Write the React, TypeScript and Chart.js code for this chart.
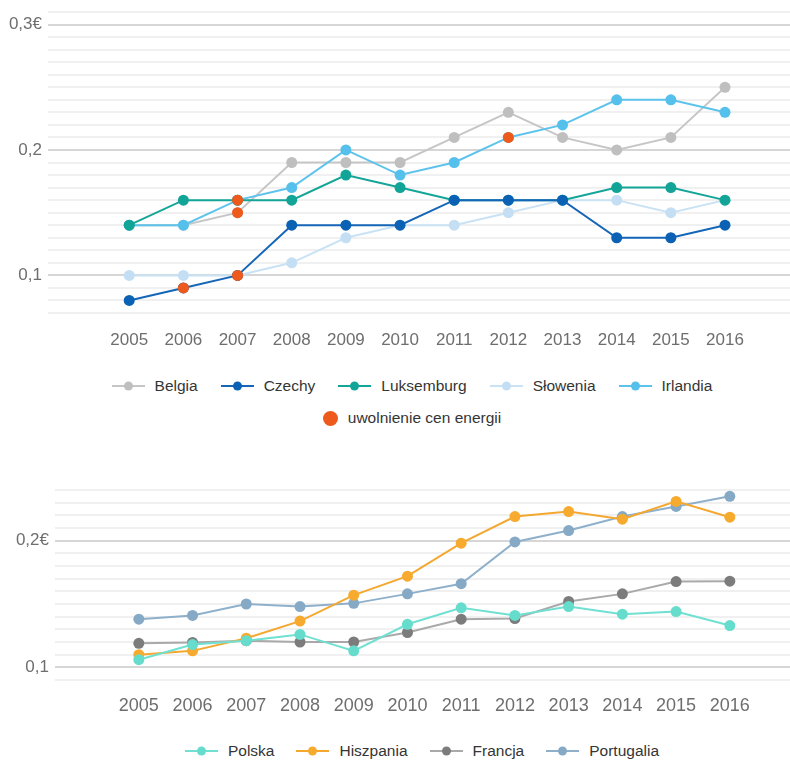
import React, { useEffect, useRef } from 'react';
import { Chart, registerables } from 'chart.js';

Chart.register(...registerables);

const years = [2005, 2006, 2007, 2008, 2009, 2010, 2011, 2012, 2013, 2014, 2015, 2016];

// Panel górny: cena energii (€/kWh)
const belgia = [0.14, 0.14, 0.15, 0.19, 0.19, 0.19, 0.21, 0.23, 0.21, 0.2, 0.21, 0.25];
const czechy = [0.08, 0.09, 0.1, 0.14, 0.14, 0.14, 0.16, 0.16, 0.16, 0.13, 0.13, 0.14];
const luksemburg = [0.14, 0.16, 0.16, 0.16, 0.18, 0.17, 0.16, 0.16, 0.16, 0.17, 0.17, 0.16];
const slowenia = [0.1, 0.1, 0.1, 0.11, 0.13, 0.14, 0.14, 0.15, 0.16, 0.16, 0.15, 0.16];
const irlandia = [0.14, 0.14, 0.16, 0.17, 0.2, 0.18, 0.19, 0.21, 0.22, 0.24, 0.24, 0.23];

// Rok uwolnienia cen energii w poszczególnych krajach
const releaseYearBelgia = 2007;
const releaseYearCzechy = 2006;
const releaseYearLuksemburg = 2007;
const releaseYearSlowenia = 2007;
const releaseYearIrlandia = 2012;

// Panel dolny
const polska = [0.106, 0.118, 0.121, 0.126, 0.113, 0.134, 0.147, 0.141, 0.148, 0.142, 0.144, 0.133];
const hiszpania = [0.11, 0.113, 0.123, 0.1365, 0.157, 0.172, 0.198, 0.219, 0.223, 0.217, 0.231, 0.2185];
const francja = [0.119, 0.1196, 0.121, 0.12, 0.12, 0.1275, 0.138, 0.1385, 0.152, 0.158, 0.1677, 0.168];
const portugalia = [0.138, 0.141, 0.15, 0.148, 0.1505, 0.158, 0.166, 0.199, 0.208, 0.219, 0.227, 0.235];

const topYLabels: [number, string][] = [
  [0.1, '0,1'],
  [0.2, '0,2'],
  [0.3, '0,3€'],
];
const bottomYLabels: [number, string][] = [
  [0.1, '0,1'],
  [0.2, '0,2€'],
];

const FONT = "'Liberation Sans', Arial, Helvetica, sans-serif";
const TICK_COLOR = '#6e6e6e';
const RELEASE_COLOR = '#ee5a1c';

type Series = {
  label: string;
  values: number[];
  line: string;
  point: string;
  order: number;
  releaseYear?: number;
};

const topSeries: Series[] = [
  { label: 'Belgia', values: belgia, line: '#c6c6c6', point: '#bfbfbf', order: 4, releaseYear: releaseYearBelgia },
  { label: 'Czechy', values: czechy, line: '#1565b8', point: '#0b62b5', order: 1, releaseYear: releaseYearCzechy },
  { label: 'Luksemburg', values: luksemburg, line: '#14a598', point: '#12a597', order: 2, releaseYear: releaseYearLuksemburg },
  { label: 'Słowenia', values: slowenia, line: '#c9e2f4', point: '#c4dff3', order: 5, releaseYear: releaseYearSlowenia },
  { label: 'Irlandia', values: irlandia, line: '#5ec3ec', point: '#55c0eb', order: 3, releaseYear: releaseYearIrlandia },
];

const bottomSeries: Series[] = [
  { label: 'Polska', values: polska, line: '#6fe0d1', point: '#66ddcc', order: 0 },
  { label: 'Hiszpania', values: hiszpania, line: '#f5a830', point: '#f6aa2e', order: 1 },
  { label: 'Francja', values: francja, line: '#a9a9a9', point: '#7c7c7d', order: 3 },
  { label: 'Portugalia', values: portugalia, line: '#8eb0cb', point: '#86a9c6', order: 2 },
];

function toPoints(values: number[]) {
  return values.map((v, i) => ({ x: years[i], y: v }));
}

function lineDatasets(series: Series[]) {
  return series.map((s) => ({
    label: s.label,
    data: toPoints(s.values),
    borderColor: s.line,
    backgroundColor: s.point,
    pointBackgroundColor: s.point,
    pointBorderWidth: 0,
    pointRadius: 5.5,
    borderWidth: 2,
    tension: 0,
    order: s.order,
  }));
}

// Punkty oznaczające rok uwolnienia cen, rysowane nad liniami
function releaseDataset(series: Series[]) {
  const pts = series
    .filter((s) => s.releaseYear !== undefined)
    .map((s) => {
      const i = years.indexOf(s.releaseYear as number);
      return { x: years[i], y: s.values[i] };
    });
  return {
    label: 'uwolnienie cen energii',
    data: pts,
    showLine: false,
    pointBackgroundColor: RELEASE_COLOR,
    backgroundColor: RELEASE_COLOR,
    borderColor: RELEASE_COLOR,
    pointBorderWidth: 0,
    pointRadius: 5.5,
    order: 0,
  };
}

function near(a: number, b: number) {
  return Math.abs(a - b) < 1e-6;
}

function buildOptions(opts: {
  xMin: number;
  xMax: number;
  yMin: number;
  yMax: number;
  yLabels: [number, string][];
  axisWidth: number;
  padTop: number;
  xPad: number;
  xAxisHeight: number;
  xFontSize: number;
}) {
  return {
    responsive: false,
    animation: false as const,
    devicePixelRatio: 1,
    layout: { autoPadding: false, padding: { top: opts.padTop, right: 0, bottom: 0, left: 0 } },
    plugins: { legend: { display: false }, tooltip: { enabled: false } },
    scales: {
      x: {
        type: 'linear' as const,
        min: opts.xMin,
        max: opts.xMax,
        afterBuildTicks: (scale: any) => {
          scale.ticks = years.map((v) => ({ value: v }));
        },
        afterFit: (scale: any) => {
          scale.height = opts.xAxisHeight;
          scale.paddingLeft = 0;
          scale.paddingRight = 0;
        },
        grid: { display: false, drawTicks: false },
        border: { display: false },
        ticks: {
          autoSkip: false,
          maxRotation: 0,
          padding: opts.xPad,
          color: TICK_COLOR,
          font: { family: FONT, size: opts.xFontSize },
          callback: (v: any) => String(v),
        },
      },
      y: {
        type: 'linear' as const,
        min: opts.yMin,
        max: opts.yMax,
        afterFit: (scale: any) => {
          scale.width = opts.axisWidth;
          scale.paddingTop = 0;
          scale.paddingBottom = 0;
        },
        grid: {
          drawTicks: false,
          lineWidth: 2,
          color: (ctx: any) => {
            const v = ctx.tick ? ctx.tick.value : 0;
            return opts.yLabels.some(([t]) => near(t, v)) ? '#d6d6d6' : '#f0f0f0';
          },
        },
        border: { display: false },
        ticks: {
          stepSize: 0.01,
          autoSkip: false,
          padding: 6,
          color: TICK_COLOR,
          font: { family: FONT, size: 17 },
          callback: (v: any) => {
            const found = opts.yLabels.find(([t]) => near(t, Number(v)));
            return found ? found[1] : '';
          },
        },
      },
    },
  };
}

function LegendSymbol({ line, point }: { line: string; point: string }) {
  return (
    <svg width={33} height={12} style={{ display: 'block', flex: '0 0 auto' }}>
      <line x1={0} y1={6} x2={33} y2={6} stroke={line} strokeWidth={2} />
      <circle cx={16.5} cy={6} r={4.5} fill={point} />
    </svg>
  );
}

function LegendRow({
  series,
  top,
  left,
  width,
  gap,
}: {
  series: Series[];
  top: number;
  left: number;
  width: number;
  gap: number;
}) {
  return (
    <div
      style={{
        position: 'absolute',
        top,
        left,
        width,
        height: 18,
        display: 'flex',
        justifyContent: 'center',
        alignItems: 'center',
        fontFamily: FONT,
        fontSize: 15.5,
        color: '#353535',
        whiteSpace: 'nowrap',
      }}
    >
      {series.map((s, i) => (
        <div
          key={s.label}
          style={{ display: 'flex', alignItems: 'center', marginLeft: i === 0 ? 0 : gap }}
        >
          <LegendSymbol line={s.line} point={s.point} />
          <span style={{ marginLeft: 10, lineHeight: '18px' }}>{s.label}</span>
        </div>
      ))}
    </div>
  );
}

export default function App() {
  const topRef = useRef<HTMLCanvasElement | null>(null);
  const bottomRef = useRef<HTMLCanvasElement | null>(null);

  useEffect(() => {
    document.documentElement.style.overflow = 'hidden';
    const charts: Chart[] = [];
    if (topRef.current) {
      charts.push(
        new Chart(topRef.current, {
          type: 'line',
          data: { datasets: [releaseDataset(topSeries), ...lineDatasets(topSeries)] as any },
          options: buildOptions({
            xMin: 2003.5,
            xMax: 2017.2,
            yMin: 0.07,
            yMax: 0.31,
            yLabels: topYLabels,
            axisWidth: 48,
            padTop: 12,
            xPad: 17,
            xAxisHeight: 40,
            xFontSize: 17,
          }) as any,
        })
      );
    }
    if (bottomRef.current) {
      charts.push(
        new Chart(bottomRef.current, {
          type: 'line',
          data: { datasets: lineDatasets(bottomSeries) as any },
          options: buildOptions({
            xMin: 2003.44,
            xMax: 2017.12,
            yMin: 0.09,
            yMax: 0.24,
            yLabels: bottomYLabels,
            axisWidth: 55,
            padTop: 20,
            xPad: 15,
            xAxisHeight: 40,
            xFontSize: 18,
          }) as any,
        })
      );
    }
    return () => {
      charts.forEach((c) => c.destroy());
    };
  }, []);

  return (
    <div>
      <canvas
        ref={topRef}
        width={790}
        height={353}
        style={{ position: 'absolute', left: 0, top: 0, width: 790, height: 353 }}
      />
      <LegendRow series={topSeries} top={377} left={34} width={756} gap={23} />
      <div
        style={{
          position: 'absolute',
          top: 409,
          left: 34,
          width: 756,
          height: 18,
          display: 'flex',
          justifyContent: 'center',
          alignItems: 'center',
          fontFamily: FONT,
          fontSize: 15.5,
          color: '#353535',
        }}
      >
        <span
          style={{
            display: 'inline-block',
            width: 15,
            height: 15,
            borderRadius: '50%',
            background: RELEASE_COLOR,
          }}
        />
        <span style={{ marginLeft: 10, lineHeight: '18px' }}>uwolnienie cen energii</span>
      </div>
      <canvas
        ref={bottomRef}
        width={790}
        height={250}
        style={{ position: 'absolute', left: 0, top: 470, width: 790, height: 250 }}
      />
      <LegendRow series={bottomSeries} top={742} left={54} width={736} gap={22} />
    </div>
  );
}
